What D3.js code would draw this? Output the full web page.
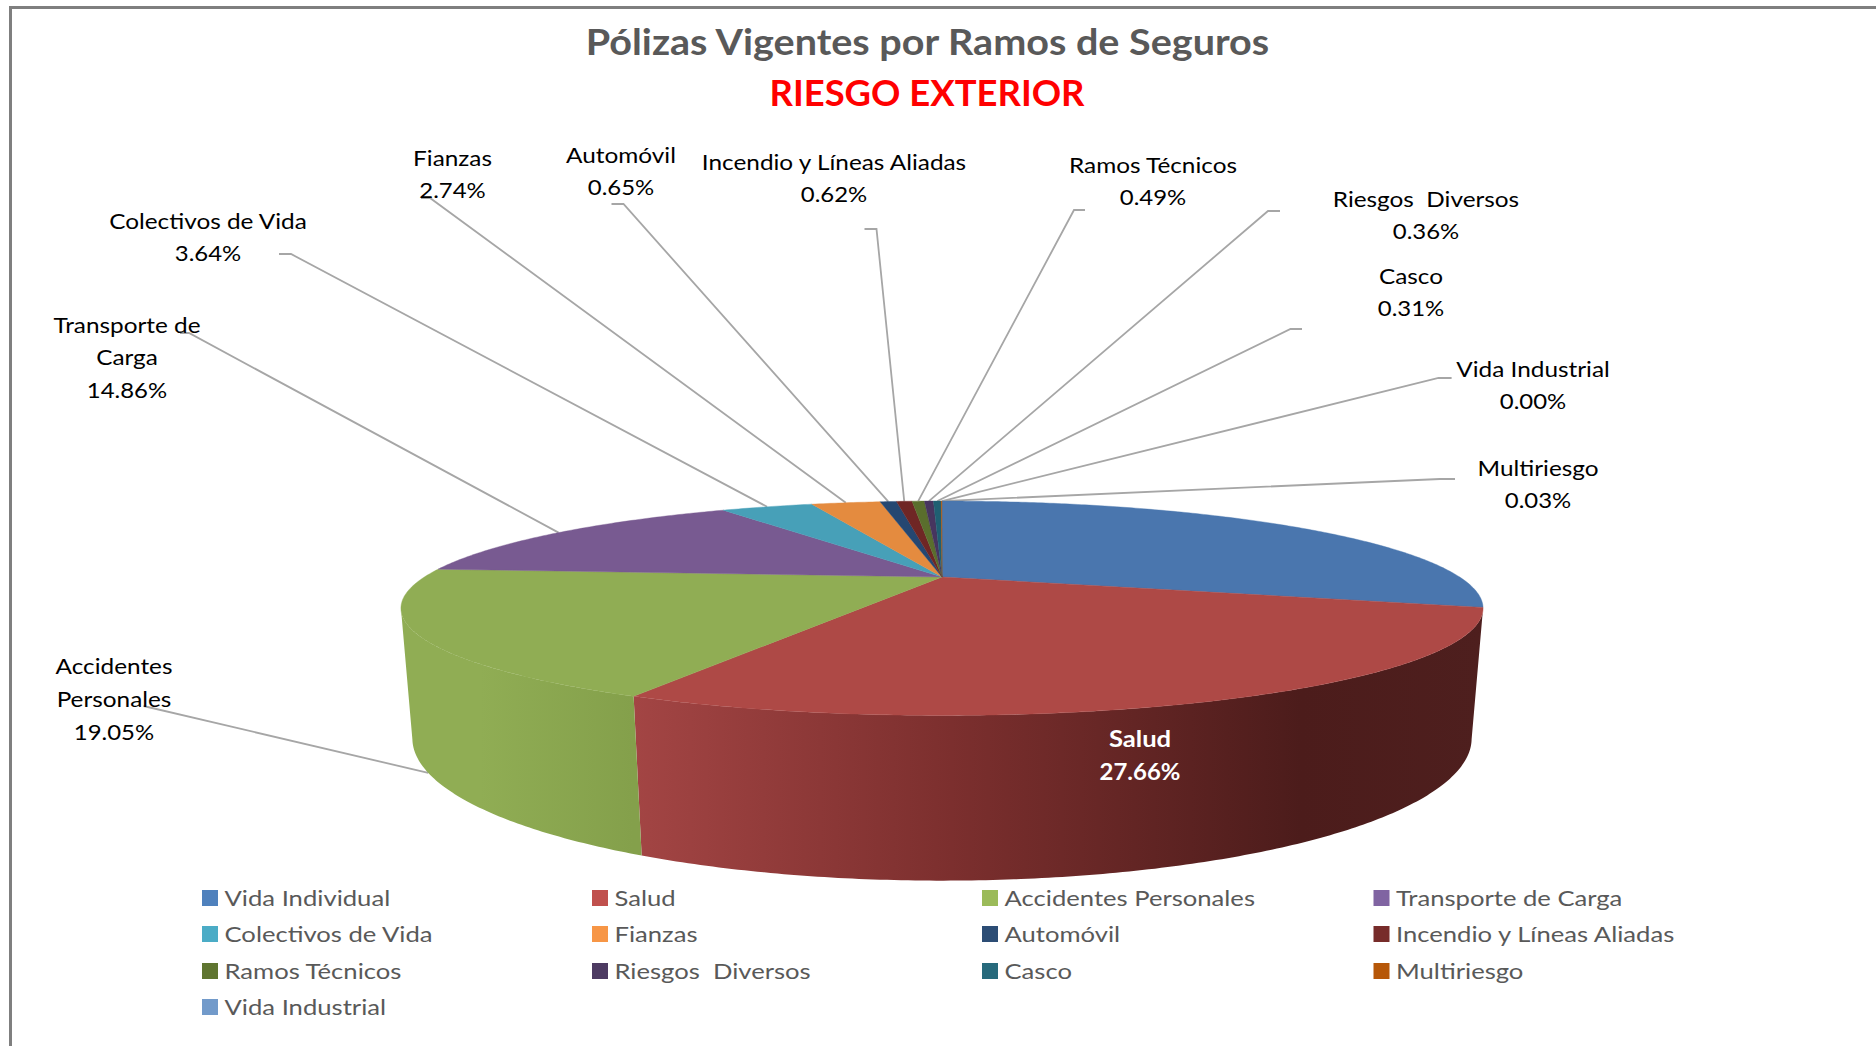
<!DOCTYPE html>
<html>
<head>
<meta charset="utf-8">
<script src="https://cdn.jsdelivr.net/npm/d3@7"></script>
<style>
html,body{margin:0;padding:0;background:#fff;overflow:hidden}
svg{display:block}
text{font-family:Lato,"Open Sans",sans-serif}
</style>
</head>
<body>
<div id="chart"></div>
<script>
const categories = ["Vida Individual","Salud","Accidentes Personales","Transporte de Carga","Colectivos de Vida","Fianzas","Automóvil","Incendio y Líneas Aliadas","Ramos Técnicos","Riesgos  Diversos","Casco","Multiriesgo","Vida Industrial"];
const values = [29.59,27.66,19.05,14.86,3.64,2.74,0.65,0.62,0.49,0.36,0.31,0.03,0.00];
const titleMain = "Pólizas Vigentes por Ramos de Seguros";
const titleSub = "RIESGO EXTERIOR";

const faceColors = ["#4a76ae","#ae4946","#90ad54","#785a91","#47a0b8","#e48b3f","#254771","#6f2625","#5a6e2d","#47355f","#1f5f72","#b55a0e","#6f95c9"];
const legendColors = ["#4f81bd","#c0504d","#9bbb59","#8064a2","#4bacc6","#f79646","#2c4d75","#772c2a","#5f7530","#4d3b62","#276a7c","#b65708","#729aca"];

// Label text lines for each labelled category
const labelLines = {
  "Salud":["Salud"],
  "Accidentes Personales":["Accidentes","Personales"],
  "Transporte de Carga":["Transporte de","Carga"],
  "Colectivos de Vida":["Colectivos de Vida"],
  "Fianzas":["Fianzas"],
  "Automóvil":["Automóvil"],
  "Incendio y Líneas Aliadas":["Incendio y Líneas Aliadas"],
  "Ramos Técnicos":["Ramos Técnicos"],
  "Riesgos  Diversos":["Riesgos  Diversos"],
  "Casco":["Casco"],
  "Multiriesgo":["Multiriesgo"],
  "Vida Industrial":["Vida Industrial"]
};
// Layout of labels: centre x, first line centre y, line step
const labelLayout = {
  "Salud":[1140,739,33],
  "Accidentes Personales":[114,666,33],
  "Transporte de Carga":[127,325,32.5],
  "Colectivos de Vida":[208,221,32.5],
  "Fianzas":[452.5,158,32.5],
  "Automóvil":[621,155,32.5],
  "Incendio y Líneas Aliadas":[834,162,32.5],
  "Ramos Técnicos":[1153,165,32.5],
  "Riesgos  Diversos":[1426,199,32.5],
  "Casco":[1411,276,32.5],
  "Multiriesgo":[1538,468,32.5],
  "Vida Industrial":[1533,369,32.5]
};
// Leader line layout: [outer x, outer y, elbow x]
const leaderLayout = {
  "Accidentes Personales":[143.5,706,143.5],
  "Transporte de Carga":[180,333,189],
  "Colectivos de Vida":[279,254,291],
  "Fianzas":[421,198,430],
  "Automóvil":[611.5,204,623.5],
  "Incendio y Líneas Aliadas":[864.5,229,876.5],
  "Ramos Técnicos":[1085,210,1074],
  "Riesgos  Diversos":[1280,211,1268],
  "Casco":[1302,329,1290.5],
  "Vida Industrial":[1451.6,378,1438.5],
  "Multiriesgo":[1455,479,1440]
};

const W = 1876, H = 1046;
const svg = d3.select("#chart").append("svg").attr("width",W).attr("height",H);

// Perspective projection of the pie's unit circle
const C = {x:942, y:577, A:517.6, B:98.1, p:0.2913, h:0.01978, vx:942, vy:6800};
function top3d(a){
  const u=Math.sin(a), v=Math.cos(a), w=1+C.p*v;
  return {x:C.x+C.A*u/w, y:C.y-C.B*v/w, w};
}
function bottom3d(a){
  const t=top3d(a), d=t.w+C.h;
  return {x:(t.x*t.w+C.h*C.vx)/d, y:(t.y*t.w+C.h*C.vy)/d};
}
const pie = d3.pie().sort(null).value(d=>d)(values);
const line = d3.line().x(d=>d.x).y(d=>d.y);
function arcPts(fn,a0,a1){
  const n=Math.max(2,Math.ceil((a1-a0)/0.01));
  return d3.range(n+1).map(i=>fn(a0+(a1-a0)*i/n));
}
// Front-facing range of the side wall: between the two silhouette angles
const frontStart = Math.acos(-C.p), frontEnd = 2*Math.PI-frontStart;

// gradients for the visible side walls
const defs = svg.append("defs");
function wallGrad(id,stops){
  const g=defs.append("linearGradient").attr("id",id).attr("gradientUnits","userSpaceOnUse")
    .attr("x1",stops[0][0]).attr("x2",stops[stops.length-1][0]).attr("y1",0).attr("y2",0);
  const x0=stops[0][0], x1=stops[stops.length-1][0];
  stops.forEach(s=>g.append("stop").attr("offset",(s[0]-x0)/(x1-x0)).attr("stop-color",s[1]));
}
wallGrad("wallSalud",[[633,"#a34544"],[951,"#7c2f2e"],[1301,"#4c1c1b"],[1483,"#4e1f1e"]]);
wallGrad("wallAP",[[403,"#90ad54"],[480,"#90ad54"],[633,"#84a04b"]]);
const wallFill = {"Salud":"url(#wallSalud)","Accidentes Personales":"url(#wallAP)"};

// Frame
svg.append("path").attr("d","M10.5,1046V7.5H1876").attr("fill","none").attr("stroke","#7f7f7f").attr("stroke-width",3);

function txt(g,x,y,s,o={}){
  const sx=o.sx||1.107;
  return g.append("text")
    .attr("transform",`translate(${x},${y}) scale(${sx},1)`)
    .attr("text-anchor",o.anchor||"middle")
    .attr("dy",".35em")
    .style("white-space","pre")
    .attr("font-size",o.size||22)
    .attr("font-weight",o.weight||400)
    .attr("fill",o.fill||"#000")
    .text(s);
}
// Titles
txt(svg,927.5,42,titleMain,{size:36,weight:700,fill:"#595959",sx:1.098});
txt(svg,927,93.5,titleSub,{size:36,weight:700,fill:"#ff0000",sx:1.012});

// Leader lines (below the pie)
const gLead = svg.append("g").attr("fill","none").attr("stroke","#a6a6a6").attr("stroke-width",1.8);
pie.forEach((d,i)=>{
  const name=categories[i], L=leaderLayout[name];
  if(!L) return;
  const mid=(d.startAngle+d.endAngle)/2;
  const end = name==="Accidentes Personales" ? bottom3d(mid) : top3d(mid);
  gLead.append("path").attr("d",line([{x:L[0],y:L[1]},{x:L[2],y:L[1]},end]));
});

// Walls then faces
const gWall=svg.append("g"), gFace=svg.append("g");
pie.forEach((d,i)=>{
  const name=categories[i];
  const a0=Math.max(d.startAngle,frontStart), a1=Math.min(d.endAngle,frontEnd);
  if(a1<=a0) return;
  const t=arcPts(top3d,a0,a1), b=arcPts(bottom3d,a0,a1).reverse();
  gWall.append("path").attr("d",line(t.concat(b))+"Z").attr("fill",wallFill[name]||faceColors[i]);
});
pie.forEach((d,i)=>{
  if(d.endAngle-d.startAngle<=0) return;
  const t=arcPts(top3d,d.startAngle,d.endAngle);
  gFace.append("path").attr("d",line([{x:C.x,y:C.y}].concat(t))+"Z").attr("fill",faceColors[i])
    .attr("stroke",faceColors[i]).attr("stroke-width",0.4);
});

// Data labels
const gLab=svg.append("g");
categories.forEach((name,i)=>{
  const lay=labelLayout[name]; if(!lay) return;
  const lines=labelLines[name];
  const isIn=name==="Salud";
  const style={fill:isIn?"#fff":"#000",weight:isIn?700:400};
  lines.forEach((s,k)=>txt(gLab,lay[0],lay[1]+k*lay[2],s,Object.assign({},style,isIn?{sx:1.165}:{})));
  txt(gLab,lay[0],lay[1]+lines.length*lay[2],d3.format(".2f")(values[i])+"%",Object.assign({},style,{sx:1.088}));
});

// Legend
const legendX=[202,592,982,1373.5], legendY=[898,934,971,1007];
const gLeg=svg.append("g");
categories.forEach((name,i)=>{
  const x=legendX[i%4], y=legendY[Math.floor(i/4)];
  gLeg.append("rect").attr("x",x).attr("y",y-8).attr("width",16).attr("height",16).attr("fill",legendColors[i]);
  txt(gLeg,x+22.5,y,name,{anchor:"start",fill:"#595959",sx:1.165});
});
</script>
</body>
</html>
